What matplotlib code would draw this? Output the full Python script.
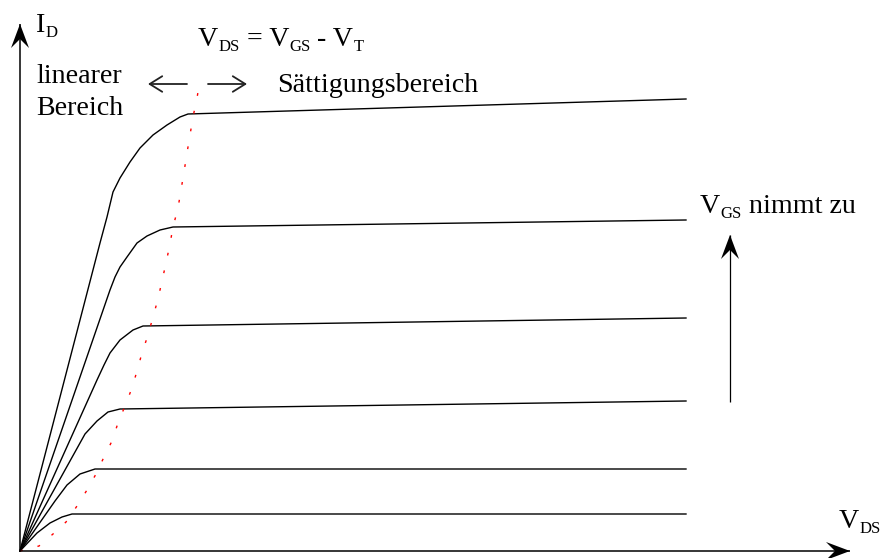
import matplotlib
matplotlib.use("Agg")
import matplotlib.pyplot as plt
from matplotlib.patches import FancyArrowPatch
from matplotlib.transforms import offset_copy

# ---------------------------------------------------------------------------
# Kennlinien (V_DS, I_D) in willkürlichen Einheiten
# ---------------------------------------------------------------------------
vds_1 = [0, 0.80, 0.87, 0.93, 1.00, 1.10, 1.20, 1.33, 1.47, 1.60, 1.68, 6.66]
id_1 = [0, 3.08, 3.34, 3.59, 3.73, 3.89, 4.03, 4.16, 4.26, 4.34, 4.37, 4.52]

vds_2 = [0, 0.90, 0.95, 1.00, 1.07, 1.17, 1.27, 1.40, 1.53, 6.66]
id_2 = [0, 2.61, 2.74, 2.84, 2.94, 3.08, 3.15, 3.21, 3.24, 3.31]

vds_3 = [0, 0.77, 0.84, 0.90, 1.00, 1.13, 1.23, 6.66]
id_3 = [0, 1.71, 1.86, 1.98, 2.11, 2.21, 2.25, 2.33]

vds_4 = [0, 0.65, 0.77, 0.88, 1.00, 6.66]
id_4 = [0, 1.17, 1.30, 1.39, 1.42, 1.50]

vds_5 = [0, 0.35, 0.47, 0.60, 0.75, 6.66]
id_5 = [0, 0.50, 0.66, 0.77, 0.82, 0.82]

vds_6 = [0, 0.17, 0.30, 0.42, 0.52, 6.66]
id_6 = [0, 0.18, 0.28, 0.34, 0.37, 0.37]

curves = [(vds_1, id_1), (vds_2, id_2), (vds_3, id_3),
          (vds_4, id_4), (vds_5, id_5), (vds_6, id_6)]

# Grenze V_DS = V_GS - V_T
vds_sat = [0, 0.19, 0.33, 0.46, 0.57, 0.67, 0.76, 0.84, 0.92, 0.98, 1.05,
           1.12, 1.17, 1.22, 1.28, 1.33, 1.38, 1.42, 1.46, 1.50, 1.53, 1.58,
           1.61, 1.64, 1.67, 1.70, 1.73, 1.77, 1.80]
id_sat = [0, 0.05, 0.17, 0.29, 0.45, 0.61, 0.77, 0.94, 1.10, 1.28, 1.45,
          1.63, 1.80, 1.98, 2.16, 2.34, 2.52, 2.70, 2.88, 3.07, 3.24, 3.43,
          3.61, 3.79, 3.98, 4.16, 4.34, 4.53, 4.71]

FONT = "Liberation Serif"
SIZE = 20.2
SUB = 12

fig = plt.figure(figsize=(8.84, 5.58), dpi=100)
ax = fig.add_axes([0, 0, 1, 1])
ax.set_xlim(-0.20, 8.64)
ax.set_ylim(-0.07, 5.51)
ax.axis("off")

for v, i in curves:
    ax.plot(v, i, color="black", lw=1.0, solid_joinstyle="round")

ax.plot(vds_sat, id_sat, color="red", lw=1.0, linestyle=(0, (2.0, 11.0)))


def stealth(x0, y0, x1, y1, length=0.24, half=0.09, notch=0.15, lw=1.1):
    """Achse/Pfeil mit gefüllter Spitze (Stealth-Form)."""
    ax.plot([x0, x1], [y0, y1], color="black", lw=lw, solid_capstyle="butt")
    dx, dy = x1 - x0, y1 - y0
    n = (dx ** 2 + dy ** 2) ** 0.5
    ux, uy = dx / n, dy / n
    px, py = -uy, ux
    pts_x = [x1, x1 - length * ux + half * px, x1 - notch * ux, x1 - length * ux - half * px]
    pts_y = [y1, y1 - length * uy + half * py, y1 - notch * uy, y1 - length * uy - half * py]
    ax.fill(pts_x, pts_y, color="black", lw=0)


stealth(0, 0, 0, 5.27)
stealth(0, 0, 8.30, 0)
stealth(7.10, 1.49, 7.10, 3.16, lw=0.9)

for x0, x1 in [(1.67, 1.28), (1.88, 2.27)]:
    ax.add_patch(FancyArrowPatch((x0, 4.67), (x1, 4.67),
                                 arrowstyle="->,head_length=0.45,head_width=0.28",
                                 mutation_scale=20, color="#222222", lw=1.3,
                                 shrinkA=0, shrinkB=0))

renderer = fig.canvas.get_renderer()


def label(x, y, parts):
    dx = 0.0
    for s, sub in parts:
        tr = offset_copy(ax.transData, fig=fig, x=dx, y=-5 if sub else 0, units="dots")
        t = ax.text(x, y, s, transform=tr, fontsize=SUB if sub else SIZE,
                    family=FONT, va="baseline", ha="left")
        dx += t.get_window_extent(renderer).width


label(0.16, 5.19, [("I", False), ("D", True)])
label(1.78, 5.05, [("V", False), ("DS", True), (" = V", False), ("GS", True),
                   (" - V", False), ("T", True)])
label(0.16, 4.68, [("linearer", False)])
label(0.16, 4.36, [("Bereich", False)])
label(2.57, 4.59, [("Sättigungsbereich", False)])
label(6.80, 3.38, [("V", False), ("GS", True), (" nimmt zu", False)])
label(8.19, 0.23, [("V", False), ("DS", True)])

fig.savefig("out.png", dpi=100)
